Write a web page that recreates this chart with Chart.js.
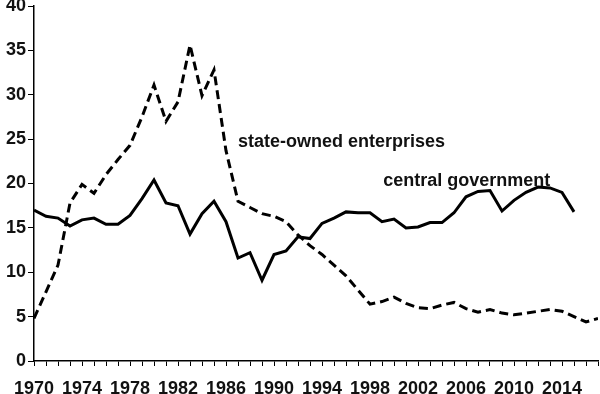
<!DOCTYPE html>
<html>
<head>
<meta charset="utf-8">
<script src="https://cdn.jsdelivr.net/npm/chart.js@4"></script>
<style>
  html, body { margin: 0; padding: 0; background: #fff; }
  #wrap { width: 600px; height: 394px; }
</style>
</head>
<body>
<div id="wrap"><canvas id="chart" width="600" height="394"></canvas></div>
<script>
const years = [1970, 1971, 1972, 1973, 1974, 1975, 1976, 1977, 1978, 1979,
               1980, 1981, 1982, 1983, 1984, 1985, 1986, 1987, 1988, 1989,
               1990, 1991, 1992, 1993, 1994, 1995, 1996, 1997, 1998, 1999,
               2000, 2001, 2002, 2003, 2004, 2005, 2006, 2007, 2008, 2009,
               2010, 2011, 2012, 2013, 2014, 2015, 2016, 2017];
// central government, 1970-2015
const centralGov = [17.0, 16.3, 16.1, 15.2, 15.9, 16.1, 15.4, 15.4, 16.4, 18.3,
                    20.4, 17.8, 17.5, 14.3, 16.6, 18.0, 15.7, 11.6, 12.2, 9.1,
                    12.0, 12.4, 14.0, 13.8, 15.5, 16.1, 16.8, 16.7, 16.7, 15.7,
                    16.0, 15.0, 15.1, 15.6, 15.6, 16.7, 18.5, 19.1, 19.2, 16.9,
                    18.1, 19.0, 19.6, 19.5, 19.0, 16.8];
// state-owned enterprises, 1970-2017
const stateOwned = [4.8, 7.8, 10.8, 17.8, 19.9, 18.9, 21.0, 22.7, 24.3, 27.5,
                    31.1, 27.0, 29.2, 35.6, 29.9, 32.8, 23.7, 18.0, 17.3, 16.6,
                    16.3, 15.7, 14.2, 13.0, 12.0, 10.8, 9.6, 8.0, 6.4, 6.7,
                    7.2, 6.5, 6.0, 5.9, 6.3, 6.6, 5.9, 5.5, 5.8, 5.4,
                    5.2, 5.4, 5.6, 5.8, 5.6, 5.0, 4.4, 4.8];
const yTicks = [0, 5, 10, 15, 20, 25, 30, 35, 40];
const labelEvery = 4;

const seriesLabels = [
  { text: 'state-owned enterprises', x: 1987.0, y: 24.1 },
  { text: 'central government', x: 1999.1, y: 19.7 }
];

const ink = '#111';
const family = '"Liberation Sans", Arial, sans-serif';

const textPlugin = {
  id: 'seriesText',
  afterDatasetsDraw(chart) {
    const { ctx, scales } = chart;
    ctx.save();
    ctx.fillStyle = ink;
    ctx.font = 'bold 18px ' + family;
    ctx.textBaseline = 'alphabetic';
    ctx.textAlign = 'left';
    seriesLabels.forEach(l => {
      ctx.fillText(l.text, scales.x.getPixelForValue(l.x), scales.y.getPixelForValue(l.y));
    });
    ctx.restore();
  }
};

const toPoints = vals => vals.map((v, i) => ({ x: years[i], y: v }));

// no extra room for overhanging tick labels, the picture clips them
function noPad(scale) {
  scale.paddingTop = 0;
  scale.paddingBottom = 0;
  scale.paddingLeft = 0;
  scale.paddingRight = 0;
}

new Chart(document.getElementById('chart'), {
  type: 'line',
  data: {
    datasets: [{
      label: 'central government',
      data: toPoints(centralGov),
      borderColor: '#000',
      borderWidth: 3,
      pointRadius: 0,
      tension: 0,
      fill: false
    }, {
      label: 'state-owned enterprises',
      data: toPoints(stateOwned),
      borderColor: '#000',
      borderWidth: 3,
      borderDash: [9, 5],
      pointRadius: 0,
      tension: 0,
      fill: false
    }]
  },
  options: {
    responsive: false,
    animation: false,
    devicePixelRatio: 1,
    layout: { padding: { top: 6, right: 2, left: 0, bottom: 0 } },
    plugins: { legend: { display: false }, tooltip: { enabled: false } },
    scales: {
      x: {
        type: 'linear',
        min: years[0],
        max: years[years.length - 1],
        afterBuildTicks(scale) {
          scale.ticks = years.map(v => ({ value: v }));
        },
        afterFit(scale) { scale.height = 33; noPad(scale); },
        grid: { drawOnChartArea: false, drawTicks: true, tickLength: 5, color: '#000', lineWidth: 1 },
        border: { display: true, color: '#000', width: 1.5 },
        ticks: {
          autoSkip: false,
          maxRotation: 0,
          padding: 12,
          color: ink,
          font: { family: family, size: 18, weight: 'bold' },
          callback: v => ((v - years[0]) % labelEvery === 0 ? String(v) : '')
        }
      },
      y: {
        min: yTicks[0],
        max: yTicks[yTicks.length - 1],
        afterBuildTicks(scale) {
          scale.ticks = yTicks.map(v => ({ value: v }));
        },
        afterFit(scale) { scale.width = 34; noPad(scale); },
        grid: { drawOnChartArea: false, drawTicks: true, tickLength: 6, color: '#000', lineWidth: 1 },
        border: { display: true, color: '#000', width: 1.5 },
        ticks: {
          padding: 2,
          color: ink,
          font: { family: family, size: 18, weight: 'bold' }
        }
      }
    }
  },
  plugins: [textPlugin]
});
</script>
</body>
</html>
